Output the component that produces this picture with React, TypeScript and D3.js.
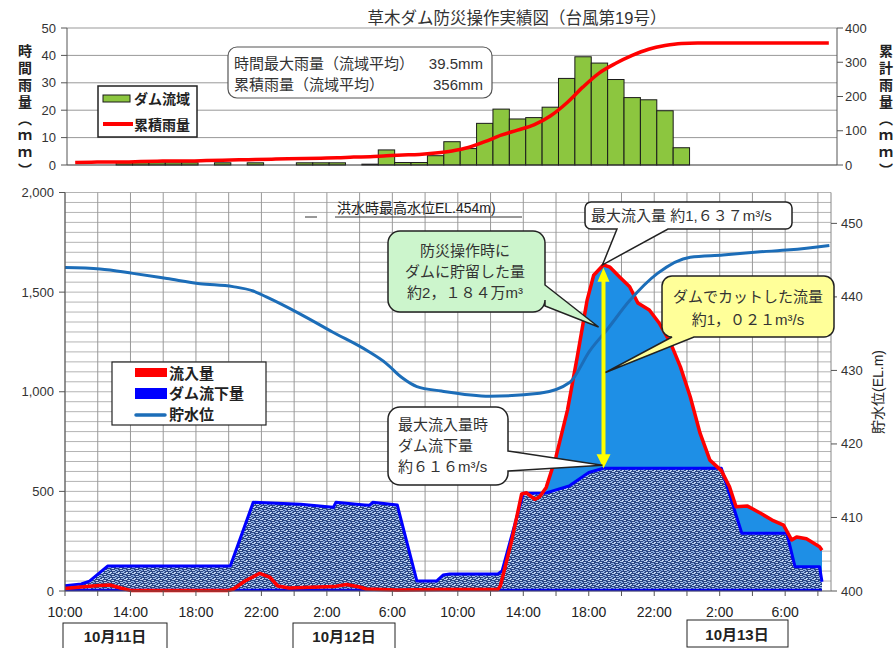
import React from 'react';
import * as d3 from 'd3';

const LAT = "'Liberation Sans', Arial, 'Noto Sans CJK JP', sans-serif";
const JP = "'Noto Sans CJK JP', 'Liberation Sans', sans-serif";

// top chart: hourly basin rainfall (mm), hour 0 = 10:00 Oct 11
const rainHourly = [
  0, 0, 0, 0.8, 0.8, 0.8, 0.8, 0.8, 0, 0.8,
  0, 0.8, 0, 0, 0.8, 0.8, 0.8, 0, 0.3, 5.5,
  0.9, 0.9, 3.4, 8.5, 6, 15.2, 20.4, 16.8, 17.3, 21.1,
  31.6, 39.5, 37.2, 31.2, 24.6, 23.8, 19.8, 6.3, 0, 0,
  0, 0, 0, 0, 0, 0, 0,
];
// cumulative rainfall (mm), read at each hour centre
const rainCumulative = [
  7, 8, 9, 9, 10, 11, 12, 12, 13, 14,
  15, 16, 17, 18, 19, 20, 21, 23, 24, 27,
  29, 31, 35, 41, 51, 68, 87, 102, 117, 143,
  181, 228, 269, 297, 320, 338, 349, 355, 356, 356,
  356, 356, 356, 356, 356, 356, 356,
];
const rainTicks = [0, 10, 20, 30, 40, 50];
const cumTicks = [0, 100, 200, 300, 400];

// bottom chart: [hours after 10:00 Oct 11, value]
const inflow: [number, number][] = [
  [0, 13], [1.3, 22], [2.1, 28], [2.75, 30], [3.4, 15], [4, 3], [10, 3], [10.3, 10],
  [11, 50], [11.9, 89], [12.5, 70], [13, 25], [13.7, 15], [16.4, 22], [17.2, 33],
  [18, 20], [18.4, 10], [20.3, 5], [22.9, 8], [26.45, 8], [26.6, 25], [27.3, 256],
  [27.9, 487], [28.2, 493], [28.7, 460], [29, 473], [29.4, 520], [30, 674], [30.7, 908],
  [31.3, 1176], [31.9, 1460], [32.3, 1585], [32.9, 1637], [33.3, 1625], [33.9, 1575],
  [34.5, 1527], [35, 1445], [35.7, 1410], [36.3, 1345], [37, 1244], [37.6, 1125],
  [38.2, 975], [38.8, 792], [39.4, 657], [40.1, 604], [40.6, 523], [41, 423],
  [41.7, 426], [42.5, 390], [43.2, 356], [43.9, 331], [44.4, 256], [44.7, 271],
  [45.3, 262], [46.1, 222], [46.25, 205],
];
const outflow: [number, number][] = [
  [0, 27], [1, 35], [1.5, 50], [2.6, 125], [10.1, 125], [11.5, 445], [14.4, 435],
  [16.2, 422], [16.4, 420], [16.55, 445], [18.3, 432], [18.6, 430], [18.8, 445],
  [20.3, 432], [21.5, 50], [22.7, 50], [23.1, 80], [23.5, 85], [26.45, 85], [26.7, 100],
  [28, 490], [29.4, 492], [29.9, 505], [30.8, 527], [32, 595], [32.9, 616], [40.1, 616],
  [41.35, 290], [44.1, 290], [44.6, 122], [46.1, 122], [46.25, 47],
];
const waterLevel: [number, number][] = [
  [0, 444.0], [2.14, 443.8], [4.15, 443.2], [6.23, 442.5], [8.25, 441.8], [10.26, 441.4],
  [11.5, 440.8], [12.3, 440.0], [14.35, 437.7], [16.37, 435.2], [18.45, 432.7],
  [19.6, 431.0], [20.6, 429.0], [21.5, 427.8], [23, 427.2], [25.96, 426.5], [29, 426.9],
  [30.85, 428.4], [32.07, 432.7], [33.1, 435.5], [34.5, 439.5], [36.2, 443.2],
  [38.2, 445.4], [40.2, 445.7], [42.3, 446.1], [44.3, 446.4], [46.7, 447.0],
];
const flowTicks = [0, 500, 1000, 1500, 2000];
const levelTicks = [400, 410, 420, 430, 440, 450];
const timeTicks = [0, 4, 8, 12, 16, 20, 24, 28, 32, 36, 40, 44];
const timeLabels = ['10:00', '14:00', '18:00', '22:00', '2:00', '6:00', '10:00', '14:00', '18:00', '22:00', '2:00', '6:00'];
const dateLabels = ['10月11日', '10月12日', '10月13日'];

const peakTime = 32.9;
const peakInflow = 1637;
const outflowAtPeak = 616;

type Side = 'right' | 'bottom';
function callout(x: number, y: number, w: number, h: number, r: number, side: Side, a: number, b: number, tx: number, ty: number) {
  const p = d3.path();
  p.moveTo(x + r, y);
  p.lineTo(x + w - r, y);
  p.arcTo(x + w, y, x + w, y + r, r);
  if (side === 'right') {
    p.lineTo(x + w, a);
    p.lineTo(tx, ty);
    p.lineTo(x + w, b);
  }
  p.lineTo(x + w, y + h - r);
  p.arcTo(x + w, y + h, x + w - r, y + h, r);
  if (side === 'bottom') {
    p.lineTo(b, y + h);
    p.lineTo(tx, ty);
    p.lineTo(a, y + h);
  }
  p.lineTo(x + r, y + h);
  p.arcTo(x, y + h, x, y + h - r, r);
  p.lineTo(x, y + r);
  p.arcTo(x, y, x + r, y, r);
  p.closePath();
  return p.toString();
}

export default function App() {
  // top chart scales
  const xTop = d3.scaleLinear().domain([0, 47]).range([67, 837]);
  const yRain = d3.scaleLinear().domain([0, 50]).range([165, 28]);
  const yCum = d3.scaleLinear().domain([0, 400]).range([165, 28]);

  // bottom chart scales
  const x = d3.scaleLinear().domain([0, 46.8]).range([65, 831]);
  const yQ = d3.scaleLinear().domain([0, 2000]).range([591, 192.5]);
  const yL = d3.scaleLinear().domain([400, 454.2]).range([591, 192.5]);

  const cumLine = d3.line<number>().x((_, i) => xTop(i + 0.5)).y((d) => yCum(d)).curve(d3.curveMonotoneX);
  const flowLine = d3.line<[number, number]>().x((d) => x(d[0])).y((d) => yQ(d[1]));
  const flowArea = d3.area<[number, number]>().x((d) => x(d[0])).y0(yQ(0)).y1((d) => yQ(d[1]));
  const levelLine = d3.line<[number, number]>().x((d) => x(d[0])).y((d) => yL(d[1])).curve(d3.curveMonotoneX);

  const ax = x(peakTime);
  const yPeak = yQ(peakInflow);
  const yOut = yQ(outflowAtPeak);
  const yMid = yQ((peakInflow + outflowAtPeak) / 2 - 30);

  const hGrid = d3.range(50, 2001, 50);
  const vGrid = d3.range(0, 47, 2);
  const vertical = { writingMode: 'vertical-rl', textOrientation: 'upright' } as React.CSSProperties;

  return (
    <svg width={895} height={648} style={{ position: 'absolute', left: 0, top: 0, background: '#fff' }} fontFamily={LAT}>
      <defs>
        <pattern id="denim" width="8" height="6" patternUnits="userSpaceOnUse">
          <rect width="8" height="6" fill="#2b4684" />
          <rect x="0" y="0" width="3" height="1" fill="#b4cbee" />
          <rect x="5" y="0" width="2" height="1" fill="#7d9fd6" />
          <rect x="3" y="1" width="2" height="1" fill="#8eafe0" />
          <rect x="6" y="2" width="2" height="1" fill="#c6d9f3" />
          <rect x="1" y="2" width="3" height="1" fill="#9ab8e4" />
          <rect x="4" y="3" width="3" height="1" fill="#b9cff0" />
          <rect x="0" y="4" width="2" height="1" fill="#c6d9f3" />
          <rect x="3" y="5" width="3" height="1" fill="#8eafe0" />
          <rect x="7" y="4" width="1" height="1" fill="#6f92c8" />
        </pattern>
      </defs>
      <rect width={895} height={648} fill="#fff" />

      {/* ---------- title ---------- */}
      <text x={517} y={24} textAnchor="middle" fontSize={16.5} fill="#333">草木ダム防災操作実績図（台風第19号）</text>

      {/* ---------- top chart ---------- */}
      {rainTicks.slice(1).map((t) => (
        <line key={t} x1={xTop(0)} x2={xTop(47)} y1={yRain(t)} y2={yRain(t)} stroke="#999" strokeWidth={1} />
      ))}
      {rainHourly.map((v, i) =>
        v > 0 ? (
          <rect key={i} x={xTop(i)} y={yRain(v)} width={xTop(i + 1) - xTop(i)} height={yRain(0) - yRain(v)}
            fill="#8cc63f" stroke="#1a1a1a" strokeWidth={1} />
        ) : null
      )}
      <path d={cumLine(rainCumulative) || ''} fill="none" stroke="#ff0000" strokeWidth={3.5} />
      <line x1={xTop(0)} x2={xTop(47)} y1={yRain(0)} y2={yRain(0)} stroke="#333" strokeWidth={1.2} />
      <line x1={xTop(0)} x2={xTop(0)} y1={yRain(50)} y2={yRain(0)} stroke="#555" />
      <line x1={xTop(47)} x2={xTop(47)} y1={yRain(50)} y2={yRain(0)} stroke="#555" />
      {rainTicks.map((t) => (
        <g key={t}>
          <line x1={xTop(0) - 6} x2={xTop(0)} y1={yRain(t)} y2={yRain(t)} stroke="#555" />
          <text x={56} y={yRain(t) + 4.5} textAnchor="end" fontSize={13} fill="#333">{t}</text>
        </g>
      ))}
      {cumTicks.map((t) => (
        <g key={t}>
          <line x1={xTop(47)} x2={xTop(47) + 6} y1={yCum(t)} y2={yCum(t)} stroke="#555" />
          <text x={845} y={yCum(t) + 4.5} fontSize={13} fill="#333">{t}</text>
        </g>
      ))}
      <text x={25} y={44} style={vertical} fontFamily={JP} fontSize={14} letterSpacing={3} fontWeight="bold" fill="#222">時間雨量（ｍｍ）</text>
      <text x={886} y={44} style={vertical} fontFamily={JP} fontSize={14} letterSpacing={3} fontWeight="bold" fill="#222">累計雨量（ｍｍ）</text>

      {/* top legend */}
      <rect x={98} y={86} width={99} height={51} fill="#fff" stroke="#222" strokeWidth={1.5} />
      <rect x={103} y={95} width={27} height={7} fill="#8cc63f" stroke="#1a1a1a" />
      <text x={134} y={104} fontSize={14} fontWeight="bold" fill="#222">ダム流域</text>
      <line x1={103} x2={133} y1={124} y2={124} stroke="#ff0000" strokeWidth={4} />
      <text x={134} y={130} fontSize={14} fontWeight="bold" fill="#222">累積雨量</text>

      {/* info box */}
      <rect x={228} y={47} width={264} height={51} rx={9} fill="#fff" stroke="#555" strokeWidth={1.2} />
      <text x={234} y={69} fontSize={15} fill="#333">時間最大雨量（流域平均）</text>
      <text x={483} y={69} textAnchor="end" fontSize={15} fill="#333">39.5mm</text>
      <text x={234} y={90} fontSize={15} fill="#333">累積雨量（流域平均）</text>
      <text x={483} y={90} textAnchor="end" fontSize={15} fill="#333">356mm</text>

      {/* ---------- bottom chart ---------- */}
      {hGrid.map((g) => (
        <line key={g} x1={x(0)} x2={x(46.8)} y1={yQ(g)} y2={yQ(g)} stroke="#b4b4b4" strokeWidth={1} />
      ))}
      {vGrid.map((h) => (
        <line key={h} x1={x(h)} x2={x(h)} y1={yQ(2000)} y2={yQ(0)} stroke="#999" strokeWidth={1} />
      ))}

      <path d={flowArea(inflow) || ''} fill="#1e8fe6" />
      <path d={flowArea(outflow) || ''} fill="url(#denim)" />
      <line x1={x(0)} x2={x(46.25)} y1={yQ(0) - 1} y2={yQ(0) - 1} stroke="#0000ee" strokeWidth={2.5} />
      <path d={flowLine(outflow) || ''} fill="none" stroke="#0000ff" strokeWidth={3} strokeLinejoin="round" />
      <path d={flowLine(inflow) || ''} fill="none" stroke="#ff0000" strokeWidth={3.5} strokeLinejoin="round" />
      <path d={levelLine(waterLevel) || ''} fill="none" stroke="#1c6db8" strokeWidth={3} />

      {/* yellow double arrow */}
      <line x1={ax} x2={ax} y1={yPeak + 12} y2={yOut - 12} stroke="#ffff00" strokeWidth={4} />
      <path d={`M${ax},${yPeak + 3} L${ax - 6},${yPeak + 17} L${ax + 6},${yPeak + 17} Z`} fill="#ffff00" />
      <path d={`M${ax},${yOut} L${ax - 7},${yOut - 14} L${ax + 7},${yOut - 14} Z`} fill="#ffff00" />

      {/* axes */}
      <line x1={x(0)} x2={x(0)} y1={yQ(2000)} y2={yQ(0)} stroke="#555" />
      <line x1={x(0)} x2={x(46.8)} y1={yQ(0)} y2={yQ(0)} stroke="#555" />
      <line x1={x(46.8)} x2={x(46.8)} y1={yQ(2000)} y2={yQ(0)} stroke="#888" />
      {flowTicks.map((t) => (
        <g key={t}>
          <line x1={x(0) - 6} x2={x(0)} y1={yQ(t)} y2={yQ(t)} stroke="#555" />
          <text x={54} y={yQ(t) + 4.5} textAnchor="end" fontSize={13} fill="#333">{d3.format(',')(t)}</text>
        </g>
      ))}
      {levelTicks.map((t) => (
        <g key={t}>
          <line x1={x(46.8)} x2={x(46.8) + 6} y1={yL(t)} y2={yL(t)} stroke="#555" />
          <text x={841} y={yL(t) + 4.5} fontSize={13} fill="#333">{t}</text>
        </g>
      ))}
      {vGrid.map((h) => (
        <line key={h} x1={x(h)} x2={x(h)} y1={yQ(0)} y2={yQ(0) + 5} stroke="#555" />
      ))}
      {timeTicks.map((h, i) => (
        <text key={h} x={x(h)} y={617} textAnchor="middle" fontSize={14} fill="#222">{timeLabels[i]}</text>
      ))}
      <text transform="translate(883,392) rotate(-90)" textAnchor="middle" fontSize={14} fill="#222">貯水位(EL.m)</text>

      {/* date boxes */}
      <rect x={63} y={623} width={104} height={30} fill="#fff" stroke="#222" />
      <text x={115} y={642} textAnchor="middle" fontSize={15} fontWeight="bold" fill="#222">{dateLabels[0]}</text>
      <rect x={293} y={623} width={102} height={30} fill="#fff" stroke="#222" />
      <text x={344} y={642} textAnchor="middle" fontSize={15} fontWeight="bold" fill="#222">{dateLabels[1]}</text>
      <rect x={687} y={620} width={101} height={27} fill="#fff" stroke="#222" />
      <text x={737} y={640} textAnchor="middle" fontSize={15} fontWeight="bold" fill="#222">{dateLabels[2]}</text>

      {/* bottom legend */}
      <rect x={112} y={362} width={154} height={63} fill="#fff" stroke="#222" strokeWidth={1.2} />
      <rect x={135} y={368} width={32} height={9} fill="#ff0000" />
      <text x={169} y={379} fontSize={15} fontWeight="bold" fill="#222">流入量</text>
      <rect x={135} y={388} width={32} height={11} fill="#0000ff" />
      <text x={169} y={399} fontSize={15} fontWeight="bold" fill="#222">ダム流下量</text>
      <line x1={136} x2={165} y1={415} y2={415} stroke="#1c6db8" strokeWidth={3.5} strokeLinecap="round" />
      <text x={169} y={420} fontSize={15} fontWeight="bold" fill="#222">貯水位</text>

      {/* flood water level note */}
      <line x1={305} x2={317} y1={217} y2={217} stroke="#333" />
      <line x1={335} x2={522} y1={217} y2={217} stroke="#333" />
      <text x={337} y={213} fontSize={14} fill="#222">洪水時最高水位EL.454m)</text>

      {/* callouts */}
      <path d={callout(388, 231, 157, 81, 12, 'right', 285, 306, x(32.6), yQ(1325))} fill="#ccf5cc" stroke="#222" strokeWidth={1.5} />
      <text x={465} y={256} textAnchor="middle" fontSize={15} fill="#333">防災操作時に</text>
      <text x={465} y={277} textAnchor="middle" fontSize={15} fill="#333">ダムに貯留した量</text>
      <text x={465} y={298} textAnchor="middle" fontSize={15} fill="#333">約2，１８４万m³</text>

      <path d={callout(585, 202, 207, 27, 6, 'bottom', 617, 668, ax - 1, yPeak)} fill="#fff" stroke="#222" strokeWidth={1.5} />
      <text x={591} y={221} fontSize={15} fill="#333">最大流入量 約1,６３７m³/s</text>

      <path d={callout(662, 276, 172, 61, 10, 'bottom', 672, 694, ax + 2, yMid)} fill="#ffff99" stroke="#222" strokeWidth={1.5} />
      <text x={748} y={302} textAnchor="middle" fontSize={15} fill="#333">ダムでカットした流量</text>
      <text x={748} y={325} textAnchor="middle" fontSize={15} fill="#333">約1，０２１m³/s</text>

      <path d={callout(388, 407, 120, 78, 12, 'right', 451, 471, ax - 1, yOut - 3)} fill="#fff" stroke="#222" strokeWidth={1.5} />
      <text x={398} y={430} fontSize={15} fill="#333">最大流入量時</text>
      <text x={398} y={451} fontSize={15} fill="#333">ダム流下量</text>
      <text x={398} y={472} fontSize={15} fill="#333">約６１６m³/s</text>
    </svg>
  );
}
